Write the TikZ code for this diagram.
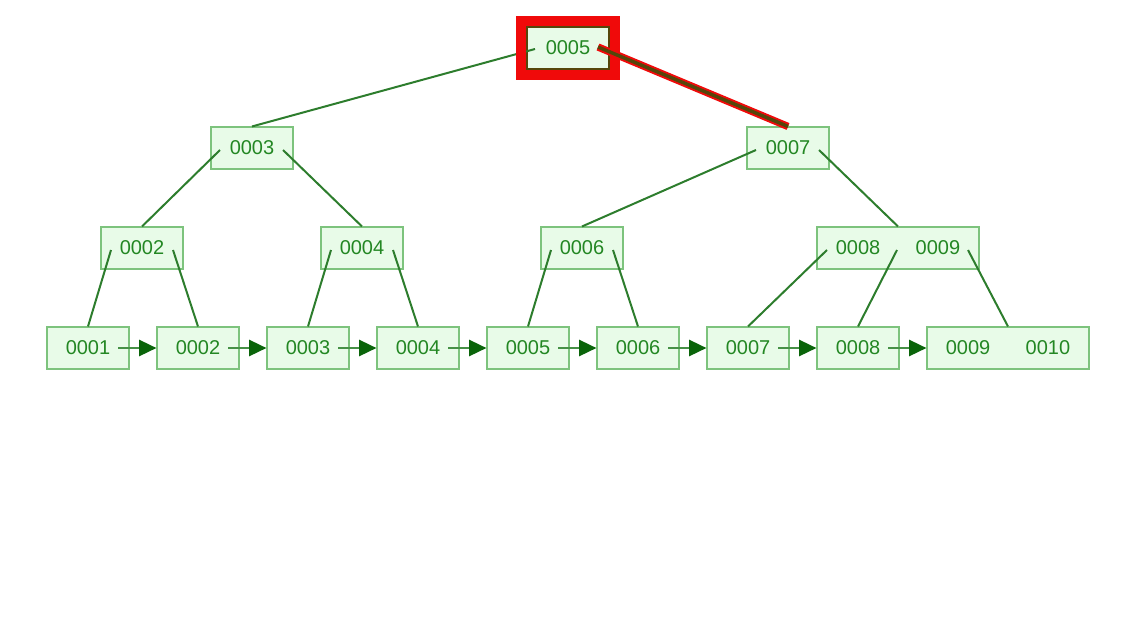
\documentclass[tikz,border=0pt]{standalone}
\usepackage{fontspec}
\setmainfont{Liberation Sans}
\usepackage{tikz}
\usetikzlibrary{arrows.meta,calc}
\definecolor{btfill}{RGB}{232,251,232}
\definecolor{btedge}{RGB}{125,195,125}
\definecolor{bttext}{RGB}{35,135,35}
\definecolor{btlink}{RGB}{45,125,45}
\definecolor{btnext}{RGB}{70,145,70}
\definecolor{bthead}{RGB}{10,100,10}
\definecolor{btred}{RGB}{240,10,10}
\definecolor{btcore}{RGB}{85,70,10}
\tikzset{
  btKey/.style={draw=btedge, line width=0.8pt, fill=btfill, text=bttext,
                minimum width=61.5pt, minimum height=31.5pt, inner sep=0pt,
                font=\fontsize{15}{17}\selectfont},
  btWide/.style={btKey, minimum width=121.5pt},
  btLink/.style={draw=btlink, line width=1.5pt},
  btNext/.style={draw=btnext, line width=1.9pt,
                 -{Triangle[length=13pt,width=12pt,fill=bthead,color=bthead]}},
  btFrame/.style={draw=btred, line width=7.5pt},
  btPath/.style={draw=btred, line width=5.5pt},
  btPathCore/.style={draw=btcore, line width=2.6pt}
}
\begin{document}
\begin{tikzpicture}[x=0.75pt,y=-0.75pt]
  \useasboundingbox (0,0) rectangle (1146,622);
  % root and inner levels
  \node[btKey, draw=btcore] (r5) at (568,48) {0005};
  \node[btKey] (i3) at (252,148) {0003};
  \node[btKey] (i7) at (788,148) {0007};
  \node[btKey] (i2) at (142,248) {0002};
  \node[btKey] (i4) at (362,248) {0004};
  \node[btKey] (i6) at (582,248) {0006};
  \node[btWide] (i89) at (898,248) {0008\hspace{26.6pt}0009};
  % leaves
  \node[btKey] (l1) at (88,348) {0001};
  \node[btKey] (l2) at (198,348) {0002};
  \node[btKey] (l3) at (308,348) {0003};
  \node[btKey] (l4) at (418,348) {0004};
  \node[btKey] (l5) at (528,348) {0005};
  \node[btKey] (l6) at (638,348) {0006};
  \node[btKey] (l7) at (748,348) {0007};
  \node[btKey] (l8) at (858,348) {0008};
  \node[btWide] (l910) at (1008,348) {0009\hspace{26.6pt}0010};

  \draw[btLink] ($(r5)+(-33,1)$) -- (i3.north);
  \draw[btLink] ($(i3)+(-32,2)$) -- (i2.north);
  \draw[btLink] ($(i3)+(31,2)$) -- (i4.north);
  \draw[btLink] ($(i7)+(-32,2)$) -- (i6.north);
  \draw[btLink] ($(i7)+(31,2)$) -- (i89.north);
  \draw[btLink] ($(i2)+(-31,2)$) -- (l1.north);
  \draw[btLink] ($(i2)+(31,2)$) -- (l2.north);
  \draw[btLink] ($(i4)+(-31,2)$) -- (l3.north);
  \draw[btLink] ($(i4)+(31,2)$) -- (l4.north);
  \draw[btLink] ($(i6)+(-31,2)$) -- (l5.north);
  \draw[btLink] ($(i6)+(31,2)$) -- (l6.north);
  \draw[btLink] ($(i89)+(-71,2)$) -- (l7.north);
  \draw[btLink] ($(i89)+(-1,2)$) -- (l8.north);
  \draw[btLink] ($(i89)+(70,2)$) -- (l910.north);

  \foreach \a/\b in {l1/l2,l2/l3,l3/l4,l4/l5,l5/l6,l6/l7,l7/l8,l8/l910}
    \draw[btNext] ($(\a)+(30,0)$) -- (\b.west);

  % search path
  \draw[btFrame] ($(r5.north west)+(-5,-5)$) rectangle ($(r5.south east)+(5,5)$);
  \draw[btPath] ($(r5)+(30,-1)$) -- (i7.north);
  \draw[btPathCore] ($(r5)+(30,-1)$) -- (i7.north);
\end{tikzpicture}
\end{document}
